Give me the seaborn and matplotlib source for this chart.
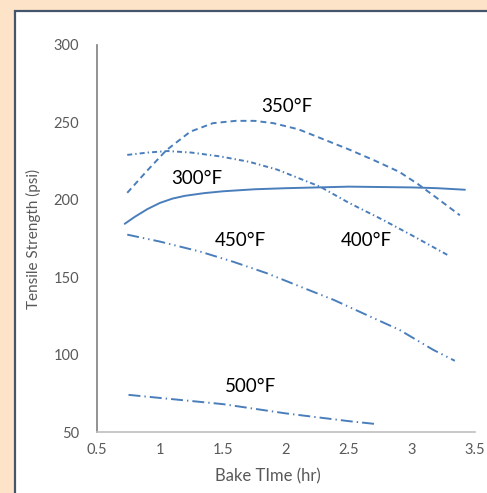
import numpy as np
import pandas as pd
import matplotlib
matplotlib.use("Agg")
import matplotlib.pyplot as plt
import seaborn as sns
from matplotlib.patches import Rectangle

# ---- data ----
t300 = [0.72, 0.8, 0.9, 1.0, 1.1, 1.2, 1.35, 1.5, 1.75, 2.0, 2.5, 3.0, 3.2, 3.42]
v300 = [184.5, 189, 194, 198, 200.8, 202.6, 204.3, 205.5, 206.8, 207.5, 208.5, 208, 207.5, 206.5]

t350 = [0.74, 0.9, 1.05, 1.24, 1.42, 1.6, 1.75, 1.9, 2.1, 2.3, 2.5, 2.7, 2.9, 3.05, 3.2, 3.38]
v350 = [204.5, 219, 232, 244, 249.5, 251, 251, 249.5, 245.5, 239, 232.5, 225.5, 218, 210, 201, 190]

t400 = [0.74, 0.9, 1.06, 1.25, 1.48, 1.71, 1.93, 2.1, 2.27, 2.5, 2.77, 3.0, 3.29]
v400 = [229, 230.5, 231.5, 230.5, 228, 224.5, 219.5, 214, 208.5, 198, 187, 177, 164]

t450 = [0.74, 1.0, 1.32, 1.58, 1.85, 2.11, 2.38, 2.64, 2.9, 3.17, 3.34]
v450 = [177.5, 173, 166.5, 160, 152.5, 144, 135.3, 125.6, 116, 103, 96]

t500 = [0.75, 1.0, 1.5, 2.0, 2.5, 2.73]
v500 = [74, 72, 68, 62, 57, 55]

series_names = ["300°F", "350°F", "400°F", "450°F", "500°F"]
x_ticks = [0.5, 1, 1.5, 2, 2.5, 3, 3.5]
y_ticks = [50, 100, 150, 200, 250, 300]
x_label = "Bake TIme (hr)"
y_label = "Tensile Strength (psi)"

frames = []
for name, t, v in zip(series_names, [t300, t350, t400, t450, t500],
                      [v300, v350, v400, v450, v500]):
    frames.append(pd.DataFrame({"time": t, "strength": v, "temp": name}))
df = pd.concat(frames, ignore_index=True)

# ---- style ----
sns.set_theme(style="white")
plt.rcParams["font.family"] = ["Lato", "DejaVu Sans"]
plt.rcParams["lines.scale_dashes"] = False

line_color = "#4a7ebb"
gray = "#595959"
peach = "#fde4c9"

fig = plt.figure(figsize=(4.87, 4.93), dpi=100, facecolor=peach)
# white panel with dark border
panel = Rectangle((15 / 487, -0.05), 1.1, 1 - 11 / 493 + 0.05,
                  transform=fig.transFigure, facecolor="white",
                  edgecolor="#44546a", linewidth=1.6, zorder=-10)
fig.patches.append(panel)

ax = fig.add_axes([97 / 487, 1 - 432 / 493, (475 - 97) / 487, (432 - 45) / 493])
ax.set_zorder(5)
ax.set_facecolor("none")
ax.patch.set_alpha(0)

dashes = {
    "300°F": "",
    "350°F": (4.3, 2.9),
    "400°F": (3.6, 2.2, 1.0, 2.2),
    "450°F": (8.6, 2.9, 1.0, 2.9, 1.0, 2.9),
    "500°F": (8.6, 2.9, 1.0, 2.9),
}
palette = {n: line_color for n in series_names}

sns.lineplot(data=df, x="time", y="strength", hue="temp", style="temp",
             palette=palette, dashes=dashes, linewidth=1.4, legend=False,
             sort=False, estimator=None, ax=ax)

ax.set_xlim(0.5, 3.5)
ax.set_ylim(50, 300)
ax.set_xticks(x_ticks)
ax.set_xticklabels([f"{v:g}" for v in x_ticks])
ax.set_yticks(y_ticks)
ax.set_yticklabels([str(v) for v in y_ticks])

for s in ["top", "right"]:
    ax.spines[s].set_visible(False)
ax.spines["left"].set_color("#7f7f7f")
ax.spines["left"].set_linewidth(1.2)
ax.spines["bottom"].set_color("#bfbfbf")
ax.spines["bottom"].set_linewidth(1.2)

ax.tick_params(axis="x", direction="in", length=4, width=1, color="#bfbfbf",
               labelsize=10.5, labelcolor=gray, pad=8)
ax.tick_params(axis="y", length=0, labelsize=10.5, labelcolor=gray, pad=13)

ax.set_xlabel(x_label, fontsize=12, color=gray)
ax.xaxis.set_label_coords(0.452, -0.095)
ax.set_ylabel(y_label, fontsize=11, color=gray, labelpad=9)

# series labels
label_pos = {
    "350°F": (2.01, 260),
    "300°F": (1.29, 213.5),
    "450°F": (1.64, 173.5),
    "400°F": (2.64, 173.5),
    "500°F": (1.72, 79.5),
}
for name, (x, y) in label_pos.items():
    ax.text(x, y, name, fontsize=13.5, color="black", ha="center", va="center")

fig.savefig("out.png", dpi=100, facecolor=peach)
